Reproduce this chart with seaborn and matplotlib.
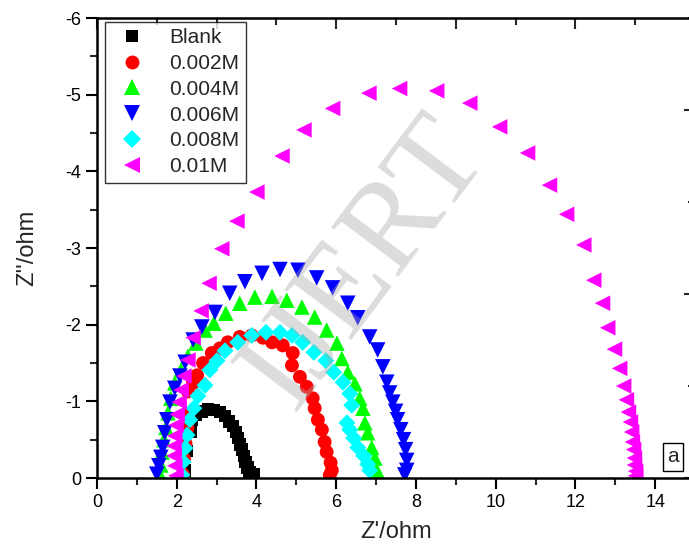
import numpy as np
import pandas as pd
import seaborn as sns
import matplotlib.pyplot as plt
from matplotlib.ticker import MultipleLocator

# Nyquist data (Z' and Z'' in ohm)
blank_x = [2.20, 2.25, 2.35, 2.38, 2.48, 2.63, 2.78, 2.93, 3.08, 3.21, 3.31, 3.41, 3.48,
           3.53, 3.58, 3.63, 3.68, 3.73, 3.78, 3.83, 3.93]
blank_y = [-0.10, -0.35, -0.60, -0.76, -0.82, -0.87, -0.90, -0.89, -0.86, -0.81, -0.74, -0.68, -0.60,
           -0.52, -0.44, -0.37, -0.29, -0.21, -0.14, -0.08, -0.05]

m002_x = [2.15, 2.18, 2.22, 2.27, 2.30, 2.28, 2.41, 2.51, 2.66, 2.88, 3.08, 3.28, 3.58, 3.88, 4.16,
          4.39, 4.66, 4.91, 4.89, 5.09, 5.26, 5.41, 5.46, 5.54, 5.64, 5.71, 5.76, 5.86, 5.89, 5.84]
m002_y = [-0.05, -0.25, -0.45, -0.65, -0.82, -1.13, -1.24, -1.34, -1.50, -1.63, -1.69, -1.77, -1.84, -1.86, -1.83,
          -1.77, -1.73, -1.63, -1.47, -1.32, -1.19, -1.04, -0.91, -0.76, -0.63, -0.47, -0.34, -0.20, -0.10, -0.04]

m004_x = [1.58, 1.60, 1.63, 1.68, 1.73, 1.78, 1.85, 1.95, 2.11, 2.28, 2.48, 2.71, 2.93, 3.23, 3.58, 3.96,
          4.39, 4.76, 5.14, 5.46, 5.76, 6.02, 6.14, 6.29, 6.47, 6.59, 6.67, 6.72, 6.79, 6.89, 6.97, 7.02, 6.99]
m004_y = [-0.04, -0.17, -0.34, -0.50, -0.66, -0.85, -1.04, -1.24, -1.41, -1.59, -1.76, -1.93, -2.02, -2.15, -2.28, -2.36,
          -2.37, -2.32, -2.23, -2.10, -1.93, -1.76, -1.56, -1.38, -1.23, -1.04, -0.91, -0.72, -0.59, -0.40, -0.26, -0.10, -0.03]

m006_x = [1.50, 1.55, 1.60, 1.65, 1.70, 1.75, 1.83, 1.95, 2.08, 2.21, 2.41, 2.63, 2.96, 3.33, 3.71, 4.14,
          4.59, 5.04, 5.51, 5.91, 6.29, 6.54, 6.84, 7.04, 7.17, 7.27, 7.34, 7.42, 7.49, 7.54, 7.62, 7.69,
          7.74, 7.77, 7.77, 7.72]
m006_y = [-0.05, -0.16, -0.27, -0.40, -0.59, -0.76, -0.99, -1.17, -1.33, -1.51, -1.80, -1.97, -2.16, -2.41, -2.56, -2.67,
          -2.72, -2.71, -2.61, -2.48, -2.28, -2.09, -1.84, -1.67, -1.45, -1.25, -1.11, -0.99, -0.87, -0.76, -0.63, -0.50,
          -0.37, -0.23, -0.10, -0.04]

m008_x = [2.13, 2.16, 2.21, 2.26, 2.33, 2.43, 2.53, 2.71, 2.83, 3.01, 3.21, 3.53, 3.88, 4.24, 4.59, 4.89,
          5.16, 5.44, 5.74, 5.94, 6.17, 6.34, 6.39, 6.27, 6.34, 6.44, 6.54, 6.69, 6.79, 6.84]
m008_y = [-0.04, -0.21, -0.39, -0.56, -0.76, -0.91, -1.07, -1.21, -1.41, -1.53, -1.66, -1.77, -1.86, -1.90, -1.90, -1.86,
          -1.77, -1.64, -1.53, -1.38, -1.25, -1.10, -0.95, -0.72, -0.63, -0.52, -0.40, -0.29, -0.18, -0.10]

m010_x = [1.98, 1.95, 1.93, 1.93, 1.95, 1.98, 2.01, 2.06, 2.11, 2.18, 2.28, 2.41, 2.61, 2.81, 3.13, 3.51,
          4.01, 4.64, 5.19, 5.91, 6.82, 7.59, 8.52, 9.35, 10.10, 10.80, 11.35, 11.78, 12.21, 12.46, 12.68,
          12.81, 12.98, 13.11, 13.21, 13.28, 13.33, 13.38, 13.41, 13.43, 13.46, 13.48, 13.48, 13.51, 13.51]
m010_y = [-0.03, -0.16, -0.29, -0.42, -0.55, -0.69, -0.83, -0.99, -1.15, -1.33, -1.54, -1.83, -2.18, -2.54, -2.99, -3.35,
          -3.73, -4.20, -4.54, -4.82, -5.02, -5.08, -5.05, -4.89, -4.58, -4.24, -3.82, -3.44, -3.04, -2.58, -2.28,
          -1.96, -1.68, -1.43, -1.20, -1.02, -0.86, -0.73, -0.60, -0.47, -0.37, -0.26, -0.17, -0.09, -0.03]

labels = ["Blank", "0.002M", "0.004M", "0.006M", "0.008M", "0.01M"]
xs = [blank_x, m002_x, m004_x, m006_x, m008_x, m010_x]
ys = [blank_y, m002_y, m004_y, m006_y, m008_y, m010_y]

colors = dict(zip(labels, ["#000000", "#ff0000", "#00ff00", "#0000ff", "#00ffff", "#ff00ff"]))
markers = dict(zip(labels, ["s", "o", "^", "v", "D", "<"]))
sizes = dict(zip(labels, [80, 100, 125, 125, 75, 125]))

df = pd.concat([pd.DataFrame({"zre": x, "zim": y, "conc": lab}) for lab, x, y in zip(labels, xs, ys)],
               ignore_index=True)

sns.set_style("ticks")
plt.rcParams["font.family"] = ["Liberation Sans", "DejaVu Sans"]
plt.rcParams["axes.unicode_minus"] = False

fig = plt.figure(figsize=(6.89, 5.46), dpi=100)
ax = fig.add_axes([0.1408, 0.1245, 0.8679, 0.8425])

sns.scatterplot(data=df, x="zre", y="zim", hue="conc", style="conc", size="conc",
                palette=colors, markers=markers, sizes=sizes, hue_order=labels,
                style_order=labels, size_order=labels, edgecolor="none", linewidth=0,
                alpha=1, ax=ax)

ax.set_xlim(0, 15)
ax.set_ylim(0, -6)
ax.xaxis.set_major_locator(MultipleLocator(2))
ax.xaxis.set_minor_locator(MultipleLocator(1))
ax.yaxis.set_major_locator(MultipleLocator(1))
ax.yaxis.set_minor_locator(MultipleLocator(0.5))
ax.tick_params(which="major", direction="out", length=8, width=1.5, labelsize=13, colors="black")
ax.tick_params(which="minor", direction="out", length=5, width=1.5)
for sp in ax.spines.values():
    sp.set_linewidth(1.8)
    sp.set_color("black")
    sp.set_visible(True)

top = ax.secondary_xaxis("top")
top.xaxis.set_major_locator(MultipleLocator(3))
top.xaxis.set_minor_locator(MultipleLocator(1.5))
top.tick_params(which="major", direction="in", length=8, width=1.5, labeltop=False)
top.tick_params(which="minor", direction="in", length=5, width=1.5)
right = ax.secondary_yaxis("right")
right.yaxis.set_major_locator(MultipleLocator(2.4))
right.yaxis.set_minor_locator(MultipleLocator(1.2))
right.tick_params(which="major", direction="in", length=8, width=1.5, labelright=False)
right.tick_params(which="minor", direction="in", length=5, width=1.5)

ax.set_xlabel("Z'/ohm", fontsize=17, labelpad=7)
ax.set_ylabel("Z''/ohm", fontsize=17, labelpad=19)

leg = ax.legend(loc="upper left", bbox_to_anchor=(0.013, 0.992), borderaxespad=0, fontsize=15,
                frameon=True, fancybox=False, edgecolor="black", labelspacing=0.33,
                handletextpad=0.8, borderpad=0.3, markerscale=1.0)
leg.get_frame().set_linewidth(1.0)

ax.text(0.963, 0.046, "a", transform=ax.transAxes, fontsize=15, ha="center", va="center",
        bbox=dict(boxstyle="square,pad=0.2", fc="white", ec="black", lw=1))

ax.text(0.45, 0.465, "IJERT", transform=ax.transAxes, fontsize=92, family="Liberation Serif",
        color="#a8a8a8", alpha=0.4, rotation=53, ha="center", va="center", zorder=5)

fig.savefig("out.png", dpi=100)
